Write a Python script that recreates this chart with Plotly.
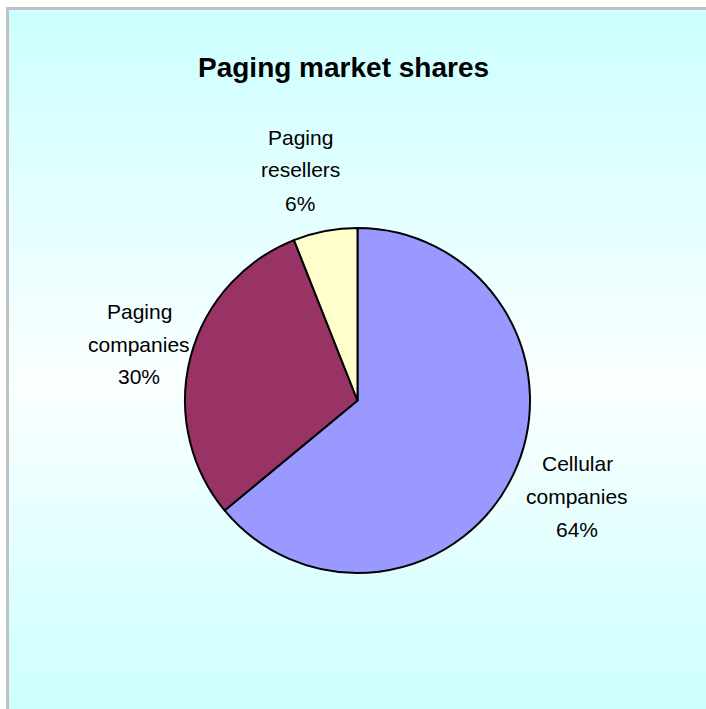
import plotly.graph_objects as go

# ---- data ----
categories = ["Cellular companies", "Paging companies", "Paging resellers"]
label_lines = [["Cellular", "companies"], ["Paging", "companies"], ["Paging", "resellers"]]
shares = [64, 30, 6]
colors = ["#9999FF", "#993366", "#FFFFCC"]
title_text = "Paging market shares"

W, H = 706, 709

fig = go.Figure()

fig.add_trace(go.Pie(
    labels=categories,
    values=shares,
    sort=False,
    direction="clockwise",
    rotation=0,
    marker=dict(colors=colors, line=dict(color="black", width=2)),
    textinfo="none",
    hoverinfo="label+percent",
    showlegend=False,
    domain=dict(x=[(357.5 - 172.5) / W, (357.5 + 172.5) / W],
                y=[1 - (400.5 + 172.5) / H, 1 - (400.5 - 172.5) / H]),
))

shapes = []
# vertical gradient background: cyan top -> white middle -> cyan bottom
top_px, bot_px, mid_px = 10, 712, 385
n = 90
c_edge = (0xCC, 0xFF, 0xFF)
c_mid = (0xFA, 0xFF, 0xFF)
for i in range(n):
    y0 = top_px + (bot_px - top_px) * i / n
    y1 = top_px + (bot_px - top_px) * (i + 1) / n
    yc = (y0 + y1) / 2
    if yc < mid_px:
        t = (yc - top_px) / (mid_px - top_px)
    else:
        t = (bot_px - yc) / (bot_px - mid_px)
    t = max(0.0, min(1.0, t))
    col = tuple(round(c_edge[k] + (c_mid[k] - c_edge[k]) * t) for k in range(3))
    shapes.append(dict(type="rect", xref="paper", yref="paper", layer="below",
                       x0=9 / W, x1=1.5, y0=1 - y1 / H - 0.001, y1=1 - y0 / H,
                       fillcolor="rgb(%d,%d,%d)" % col, line=dict(width=0)))
# white outer strips (left and top)
shapes.append(dict(type="rect", xref="paper", yref="paper", layer="below",
                   x0=-0.5, x1=6 / W, y0=-0.5, y1=1.5,
                   fillcolor="white", line=dict(width=0)))
shapes.append(dict(type="rect", xref="paper", yref="paper", layer="below",
                   x0=-0.5, x1=1.5, y0=1 - 7 / H, y1=1.5,
                   fillcolor="white", line=dict(width=0)))
# gray frame: only left and top edges are visible
shapes.append(dict(type="line", xref="paper", yref="paper", layer="below",
                   x0=7.5 / W, x1=7.5 / W, y0=-0.5, y1=1 - 7 / H,
                   line=dict(color="#C0C0C0", width=3)))
shapes.append(dict(type="line", xref="paper", yref="paper", layer="below",
                   x0=6 / W, x1=1.5, y0=1 - 8.5 / H, y1=1 - 8.5 / H,
                   line=dict(color="#C0C0C0", width=3)))

# label positions (pixel centres of first line) and line spacing
label_pos = [(577, 463), (139, 311), (300, 137)]
line_gap = 33

annotations = [dict(text="<b>%s</b>" % title_text, xref="paper", yref="paper",
                    x=343 / W, y=1 - 68 / H, xanchor="center", yanchor="middle",
                    showarrow=False,
                    font=dict(family="Liberation Sans, Arial", size=28, color="black"))]
total = sum(shares)
for lines, v, (px, py) in zip(label_lines, shares, label_pos):
    all_lines = lines + ["%d%%" % round(100 * v / total)]
    for j, ln in enumerate(all_lines):
        annotations.append(dict(text=ln, xref="paper", yref="paper",
                                x=px / W, y=1 - (py + j * line_gap) / H,
                                xanchor="center", yanchor="middle", showarrow=False,
                                font=dict(family="Liberation Sans, Arial", size=21, color="black")))

fig.update_layout(
    width=W, height=H,
    margin=dict(l=0, r=0, t=0, b=0),
    paper_bgcolor="#CCFFFF",
    plot_bgcolor="#CCFFFF",
    shapes=shapes,
    annotations=annotations,
)

fig.write_html("out.html")
